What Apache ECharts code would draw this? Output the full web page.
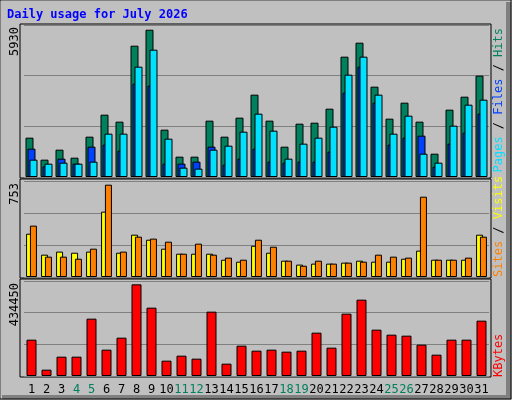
<!DOCTYPE html>
<html><head><meta charset="utf-8">
<script src="https://cdn.jsdelivr.net/npm/echarts@6/dist/echarts.min.js"></script>
<style>html,body{margin:0;padding:0;background:#c0c0c0}#c{width:512px;height:400px}</style>
</head><body><div id="c"></div>
<script>
const days = ['1','2','3','4','5','6','7','8','9','10','11','12','13','14','15','16','17','18','19','20','21','22','23','24','25','26','27','28','29','30','31'];
const weekend = ['4','5','11','12','18','19','25','26'];
const hits = [1584,698,1100,778,1624,2510,2228,5287,5930,1906,819,819,2268,1624,2389,3315,2268,1221,2147,2187,2751,4845,5408,3637,2349,2993,2228,939,2711,3234,4080];
const files = [1141,429,738,537,1221,1302,1060,3758,3677,537,537,617,1221,497,738,1141,617,577,617,617,1020,3395,4442,2993,1302,1584,1664,416,1342,1785,2550];
const pages = [698,537,577,537,617,1745,1745,4442,5126,1543,376,336,1100,1261,1825,2550,1865,738,1342,1584,2026,4120,4845,3315,1745,2469,939,577,2067,2912,3113];
const visits = [353,182,207,198,207,533,198,345,304,231,190,190,190,141,125,255,198,133,101,109,109,117,133,125,125,149,215,141,141,141,345];
const sites = [419,166,166,149,231,753,207,329,313,288,190,272,182,158,141,304,247,133,92,133,109,117,125,182,166,158,655,141,141,158,329];
const kbytes = [172220,30020,91640,91640,271760,124820,181700,434450,323900,72680,96380,82160,304940,58460,143780,120080,124820,115340,120080,205400,134300,295460,361820,219620,195920,191180,148520,101120,172220,172220,262280];
const maxLabels = ['5930','753','434450'];

const font = 'DejaVu Sans Mono';
const grids = [{left:24,right:23,top:25,height:152},{left:24,right:23,top:181,height:96},{left:24,right:23,top:281,height:95}];
const yMax = [[6120,2040],[783,261],[450300,150100]];
function xa(i){return {type:'category',gridIndex:i,data:days,axisLine:{show:false},axisTick:{show:false},
  axisLabel:i===2?{show:true,fontFamily:font,fontSize:12,margin:8,interval:0,
    color:(v)=>weekend.includes(v)?'#00805c':'#000'}:{show:false}};}
function ya(i){return {type:'value',gridIndex:i,min:0,max:yMax[i][0],interval:yMax[i][1],axisLabel:{show:false},
  axisLine:{show:false},axisTick:{show:false},splitLine:{show:true,lineStyle:{color:'#808080',width:1}}};}
const bs = {borderColor:'#000',borderWidth:1};
function bar(i,data,color,w,gap){return {type:'bar',xAxisIndex:i,yAxisIndex:i,data,barWidth:w,barGap:gap,
  itemStyle:Object.assign({color},bs),animation:false,silent:true};}
const panels = grids.map((g,i)=>({type:'rect',z:-1,shape:{x:20,y:g.top-(i===0?1:2),width:471,height:g.height+(i===0?2:3)},
  style:{fill:'#c0c0c0',stroke:'#000',lineWidth:1}}));
function vtext(x,y,align,rich,text){return {type:'text',x,y,rotation:Math.PI/2,z:10,
  style:{text,rich,align,verticalAlign:'middle',font:'12px '+font,fill:'#000'}};}
const opt = {
  backgroundColor:'#c0c0c0',
  grid:grids,
  xAxis:[xa(0),xa(1),xa(2)],
  yAxis:[ya(0),ya(1),ya(2)],
  series:[
    bar(0,hits,'#00805c',8,'-75%'),bar(0,files,'#0040ff',8,'-75%'),bar(0,pages,'#00e0ff',8,'-75%'),
    bar(1,visits,'#ffff00',7,'-45%'),bar(1,sites,'#ff8000',7,'-45%'),
    bar(2,kbytes,'#ff0000',10,'0%')
  ],
  graphic:[
    {type:'rect',z:-2,shape:{x:0.5,y:0.5,width:510,height:398},style:{fill:'none',stroke:'#fff',lineWidth:1}},
    {type:'rect',z:-2,shape:{x:506,y:2,width:5,height:397},style:{fill:'#808080'}},
    {type:'rect',z:-2,shape:{x:2,y:395,width:509,height:4},style:{fill:'#808080'}},
    {type:'rect',z:-2,shape:{x:0,y:0,width:511,height:399},style:{fill:'none',stroke:'#000',lineWidth:1}},
    ...panels,
    {type:'text',x:7,y:9,style:{text:'Daily usage for July 2026',font:'bold 12px '+font,fill:'#0000ff'}},
    vtext(15,27,'right',{},maxLabels[0]),
    vtext(15,183,'right',{},maxLabels[1]),
    vtext(15,283,'right',{},maxLabels[2]),
    vtext(499,28,'right',{p:{fill:'#00e0ff'},f:{fill:'#0040ff'},h:{fill:'#00805c'},s:{fill:'#000'}},
      '{p|Pages}{s| / }{f|Files}{s| / }{h|Hits}'),
    vtext(499,277,'left',{a:{fill:'#ff8000'},b:{fill:'#ffff00'},s:{fill:'#000'}},'{a|Sites}{s| / }{b|Visits}'),
    vtext(499,377,'left',{k:{fill:'#ff0000'}},'{k|KBytes}')
  ]
};
const ch = echarts.init(document.getElementById('c'));
ch.setOption(opt);
</script></body></html>
